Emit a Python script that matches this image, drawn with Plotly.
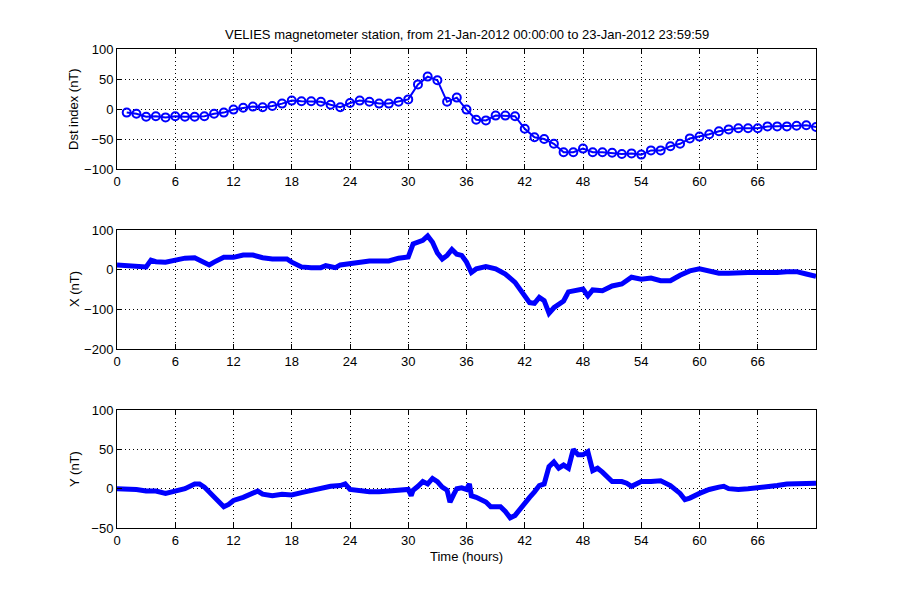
import plotly.graph_objects as go

# ---------------- data ----------------
dst_hours = list(range(1, 73))
dst_values = [-6, -8, -13, -12, -14, -12, -13, -13, -12, -8, -6, -1, 2, 4, 3, 5, 9, 14,
              13, 13, 12, 7, 3, 10, 14, 12, 9, 9, 12, 16, 41, 54, 48, 12, 19, -1,
              -18, -19, -11, -11, -12, -33, -47, -50, -58, -72, -72, -66, -72, -72, -73, -75,
              -74, -76, -69, -69, -62, -58, -49, -46, -42, -37, -34, -32, -32, -32, -29, -29,
              -29, -28, -27, -30]

x_hours = [0, 1, 2, 3, 3.5, 4, 5, 6, 7, 8, 9, 9.5, 10, 11, 12, 13, 14, 15, 16, 17, 17.5,
           18, 19, 20, 21, 21.5, 22, 22.5, 23, 24, 25, 26, 27, 28, 29, 30, 30.5, 31, 31.5,
           32, 32.5, 33, 33.5, 34, 34.5, 35, 35.5, 36, 36.5, 37, 38, 39, 40, 41, 42, 42.5,
           43, 43.5, 44, 44.5, 45, 46, 46.5, 47, 48, 48.5, 49, 50, 51, 52, 53, 54, 55, 56,
           57, 58, 59, 60, 61, 62, 63, 64, 65, 66, 67, 68, 69, 70, 71, 72]
x_values = [12, 10, 8, 7, 24, 20, 19, 25, 29, 30, 17, 12, 19, 31, 31, 37, 37, 30, 27, 27, 27,
            19, 7, 5, 5, 10, 7, 5, 12, 16, 19, 22, 22, 22, 29, 32, 65, 71, 74,
            85, 69, 42, 27, 36, 51, 39, 36, 19, -7, 2, 8, 2, -11, -32, -66, -83,
            -85, -70, -78, -110, -96, -79, -56, -53, -49, -66, -51, -53, -41, -36, -19, -24, -21, -28,
            -28, -14, -3, 2, -3, -9, -9, -7, -7, -7, -8, -7, -5, -5, -11, -17]

y_hours = [0, 1, 2, 3, 4, 5, 6, 7, 8, 8.5, 9, 10, 11, 11.5, 12, 13, 14, 14.5, 15, 16, 17,
           18, 19, 20, 21, 22, 23, 23.5, 24, 25, 26, 27, 28, 29, 30, 30.3, 30.5, 31, 31.5,
           32, 32.5, 33, 33.5, 34, 34.3, 34.7, 35, 35.5, 36, 36.3, 36.5, 37, 38, 38.5, 39,
           39.5, 40, 40.5, 41, 41.5, 42, 42.5, 43, 43.5, 44, 44.5, 45, 45.5, 46, 46.5, 47,
           47.5, 48, 48.5, 49, 49.5, 50, 51, 52, 52.5, 53, 54, 55, 56, 57, 58, 58.5, 59, 60,
           61, 62, 62.5, 63, 64, 65, 66, 67, 68, 69, 70, 71, 72]
y_values = [0, 0, -1, -3, -3, -6, -3, 0, 6, 6, 2, -11, -23, -20, -15, -11, -6, -3, -7, -9, -7,
            -8, -5, -2, 1, 3, 4, 6, -1, -3, -4, -4, -3, -1, -1, -9, -2, 3, 9,
            6, 13, 9, 2, -2, -17, -7, 0, 1, -1, 6, -9, -11, -17, -23, -23,
            -23, -29, -37, -34, -26, -17, -11, -4, 4, 6, 28, 34, 26, 30, 26, 50,
            43, 43, 47, 23, 26, 21, 9, 9, 7, 3, 9, 9, 10, 4, -6, -14, -12, -6,
            -1, 2, 3, 0, -1, 0, 1, 2, 4, 6, 6, 6, 7]

title_text = "VELIES magnetometer station, from 21-Jan-2012 00:00:00 to 23-Jan-2012 23:59:59"
x_ticks = [0, 6, 12, 18, 24, 30, 36, 42, 48, 54, 60, 66]

# ---------------- figure ----------------
BLUE = "rgb(0,0,255)"
FONT = "Liberation Sans, Arial, Helvetica, sans-serif"
FS = 13
OFF = 8  # page body margin in the browser

fig = go.Figure()
fig.add_trace(go.Scatter(x=dst_hours, y=dst_values, mode="lines+markers",
                         line=dict(color=BLUE, width=2),
                         marker=dict(symbol="circle-open", size=8, color=BLUE,
                                     line=dict(width=2, color=BLUE)),
                         xaxis="x", yaxis="y", showlegend=False))
fig.add_trace(go.Scatter(x=x_hours, y=x_values, mode="lines",
                         line=dict(color=BLUE, width=5),
                         xaxis="x2", yaxis="y2", showlegend=False))
fig.add_trace(go.Scatter(x=y_hours, y=y_values, mode="lines",
                         line=dict(color=BLUE, width=5),
                         xaxis="x3", yaxis="y3", showlegend=False))

W, H = 900, 600
L, R = 117 - OFF, W - (816 - OFF)
T, B = 49 - OFF, H - (528 - OFF)
pw = W - L - R
ph = H - T - B


def ypaper(py):
    return (H - B - (py - OFF)) / ph


def xpaper(px):
    return ((px - OFF) - L) / pw


def dom(y_top, y_bot):
    return [ypaper(y_bot), ypaper(y_top)]


ax_common = dict(showline=True, linecolor="black", linewidth=1, mirror="allticks",
                 ticks="inside", ticklen=5, tickcolor="black",
                 showgrid=True, gridcolor="black", griddash="1px,3px", gridwidth=1,
                 zeroline=False, tickfont=dict(family=FONT, size=FS, color="black"))

xax = dict(ax_common, range=[0, 72], tickvals=x_ticks)

fig.update_layout(
    width=W, height=H,
    paper_bgcolor="white", plot_bgcolor="white",
    margin=dict(l=L, r=R, t=T, b=B),
    font=dict(family=FONT, size=FS, color="black"),
    xaxis=dict(xax, anchor="y"),
    xaxis2=dict(xax, anchor="y2"),
    xaxis3=dict(xax, anchor="y3"),
    yaxis=dict(ax_common, domain=dom(49, 169), range=[-100, 100], tickvals=[-100, -50, 0, 50, 100], anchor="x"),
    yaxis2=dict(ax_common, domain=dom(230, 349), range=[-200, 100], tickvals=[-200, -100, 0, 100], anchor="x2"),
    yaxis3=dict(ax_common, domain=dom(410, 528), range=[-50, 100], tickvals=[-50, 0, 50, 100], anchor="x3"),
    showlegend=False,
)

annots = [
    dict(text=title_text, x=xpaper(466.5), y=ypaper(34), xanchor="center", yanchor="middle"),
    dict(text="Dst index (nT)", x=xpaper(73), y=ypaper(109), textangle=-90, xanchor="center", yanchor="middle"),
    dict(text="X (nT)", x=xpaper(74), y=ypaper(289), textangle=-90, xanchor="center", yanchor="middle"),
    dict(text="Y (nT)", x=xpaper(74), y=ypaper(469), textangle=-90, xanchor="center", yanchor="middle"),
    dict(text="Time (hours)", x=xpaper(466.5), y=ypaper(556), xanchor="center", yanchor="middle"),
]
for a in annots:
    fig.add_annotation(xref="paper", yref="paper", showarrow=False,
                       font=dict(family=FONT, size=FS, color="black"), **a)

fig.write_html("out.html")
